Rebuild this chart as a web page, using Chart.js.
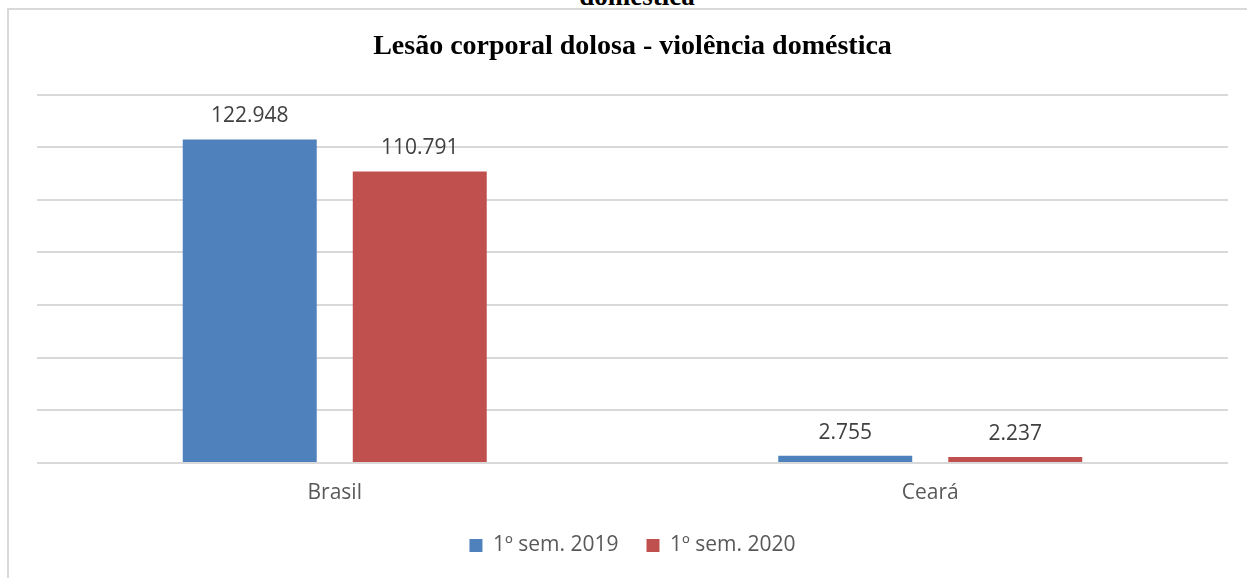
<!DOCTYPE html>
<html lang="pt-BR">
<head>
<meta charset="utf-8">
<script src="https://cdn.jsdelivr.net/npm/chart.js@4.4.1/dist/chart.umd.min.js"></script>
<style>
  html, body { margin: 0; padding: 0; background: #ffffff; overflow: hidden; }
  #page { position: relative; width: 1247px; height: 578px; overflow: hidden; }
  #caption {
    position: absolute; left: 0; width: 1274px; top: -17px; text-align: center;
    font: bold 27px "Liberation Serif", "Times New Roman", serif; color: #000;
    line-height: 27px;
  }
  #frame {
    position: absolute; left: 7px; top: 8px; width: 1300px; height: 640px;
    border-left: 2px solid #d9d9d9; border-top: 2px solid #d9d9d9;
  }
  #chart { position: absolute; left: 0; top: 0; }
</style>
</head>
<body>
<div id="page">
  <div id="caption">doméstica</div>
  <div id="frame"></div>
  <canvas id="chart" width="1247" height="578"></canvas>
</div>
<script>
// Categories, series and value axis ticks
const categories = ['Brasil', 'Ceará'];
const sem2019 = [122948, 2755];
const sem2020 = [110791, 2237];
const seriesNames = ['1º sem. 2019', '1º sem. 2020'];
const yTicks = [0, 20000, 40000, 60000, 80000, 100000, 120000, 140000];

const fmt = new Intl.NumberFormat('pt-BR');

// Value labels above each bar
const valueLabels = {
  id: 'valueLabels',
  afterDatasetsDraw(chart) {
    const ctx = chart.ctx;
    ctx.save();
    ctx.font = '21px "Open Sans", sans-serif';
    ctx.fillStyle = '#404040';
    ctx.textAlign = 'center';
    ctx.textBaseline = 'alphabetic';
    chart.data.datasets.forEach((ds, i) => {
      chart.getDatasetMeta(i).data.forEach((bar, j) => {
        ctx.fillText(fmt.format(ds.data[j]), bar.x, bar.y - 17);
      });
    });
    ctx.restore();
  }
};

new Chart(document.getElementById('chart'), {
  type: 'bar',
  data: {
    labels: categories,
    datasets: [
      { label: seriesNames[0], data: sem2019, backgroundColor: '#4f81bd' },
      { label: seriesNames[1], data: sem2020, backgroundColor: '#c0504d' }
    ]
  },
  options: {
    responsive: false,
    animation: false,
    devicePixelRatio: 1,
    categoryPercentage: 0.571,
    barPercentage: 0.788,
    layout: { padding: { left: 37, right: 19, top: 0, bottom: 12 } },
    plugins: {
      title: {
        display: true,
        text: 'Lesão corporal dolosa - violência doméstica',
        color: '#000000',
        font: { family: '"Liberation Serif", "Times New Roman", serif', size: 28, weight: 'bold', lineHeight: 1.2 },
        padding: { top: 30, bottom: 31 }
      },
      legend: {
        position: 'bottom',
        labels: {
          boxWidth: 13,
          boxHeight: 13,
          padding: 28,
          color: '#595959',
          font: { family: '"Open Sans", sans-serif', size: 21 }
        }
      },
      tooltip: { enabled: false }
    },
    scales: {
      x: {
        grid: { display: false, drawTicks: false },
        border: { display: false },
        ticks: {
          color: '#595959',
          padding: 17,
          font: { family: '"Open Sans", sans-serif', size: 21 }
        },
        afterFit(scale) { scale.height = 44; }
      },
      y: {
        min: yTicks[0],
        max: yTicks[yTicks.length - 1],
        afterBuildTicks(scale) { scale.ticks = yTicks.map(v => ({ value: v })); },
        grid: { color: '#d9d9d9', lineWidth: 2, drawTicks: false },
        border: { display: false },
        ticks: { display: false }
      }
    }
  },
  plugins: [valueLabels]
});
</script>
</body>
</html>
